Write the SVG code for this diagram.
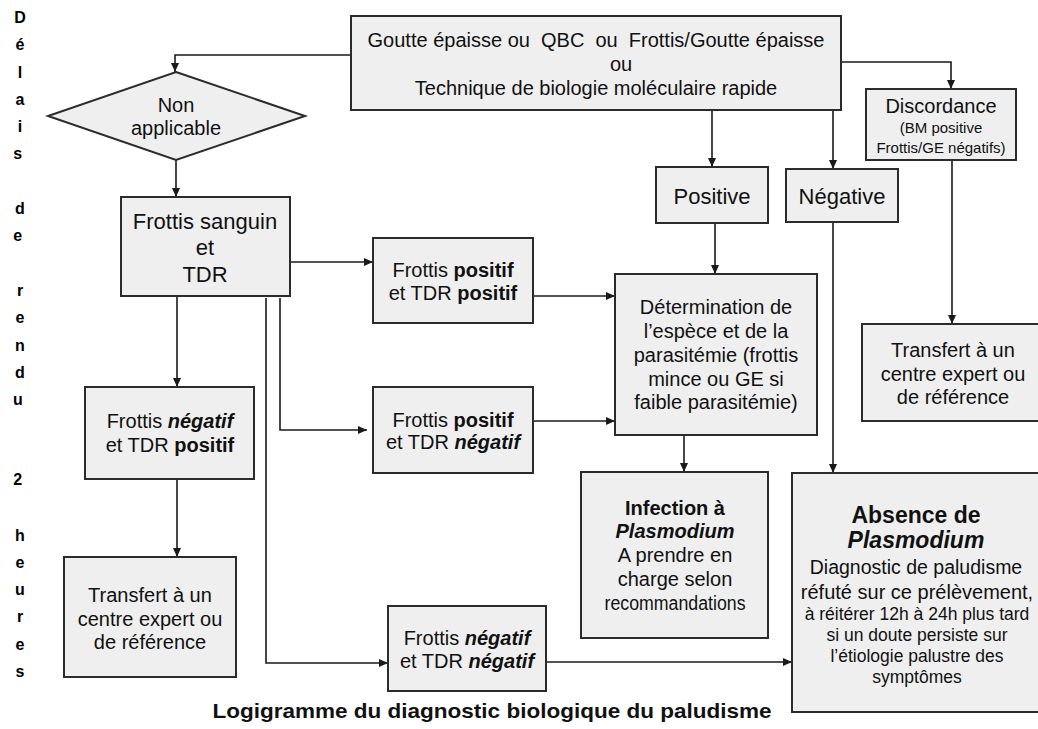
<svg xmlns="http://www.w3.org/2000/svg" width="1038" height="729" viewBox="0 0 1038 729">
<style>
.box{fill:#efefef;stroke:#2b2b2b;stroke-width:2}
.t{font-family:"Liberation Sans",Arial,sans-serif;fill:#111;text-anchor:middle}
.b{font-weight:bold}
.bi{font-weight:bold;font-style:italic}
.c{fill:none;stroke:#1a1a1a;stroke-width:1.6}
.side{font-family:"Liberation Sans",Arial,sans-serif;font-weight:bold;font-size:16px;fill:#000;text-anchor:middle}
</style>
<defs>
<marker id="arr" markerUnits="userSpaceOnUse" markerWidth="9" markerHeight="8" refX="9" refY="4" orient="auto">
<path d="M0,0 L9,4 L0,8 z" fill="#1a1a1a"/>
</marker>
</defs>
<rect width="1038" height="729" fill="#fff"/>

<text class="side">
<tspan x="20" y="23">D</tspan><tspan x="20" y="50">é</tspan><tspan x="20" y="78">l</tspan><tspan x="20" y="105">a</tspan><tspan x="20" y="132">i</tspan><tspan x="20" y="159">s</tspan>
<tspan x="20" y="214">d</tspan><tspan x="20" y="241">e</tspan>
<tspan x="20" y="296">r</tspan><tspan x="20" y="323">e</tspan><tspan x="20" y="351">n</tspan><tspan x="20" y="378">d</tspan><tspan x="20" y="405">u</tspan>
<tspan x="20" y="485">2</tspan>
<tspan x="20" y="541">h</tspan><tspan x="20" y="568">e</tspan><tspan x="20" y="595">u</tspan><tspan x="20" y="622">r</tspan><tspan x="20" y="650">e</tspan><tspan x="20" y="677">s</tspan>
</text>

<g id="connectors">
<polyline class="c" points="351,55 175,55 175,72" marker-end="url(#arr)"/>
<polyline class="c" points="841,62 951,62 951,89" marker-end="url(#arr)"/>
<line class="c" x1="712" y1="110" x2="712" y2="167" marker-end="url(#arr)"/>
<line class="c" x1="833" y1="110" x2="833" y2="169" marker-end="url(#arr)"/>
<line class="c" x1="176" y1="160" x2="176" y2="197" marker-end="url(#arr)"/>
<line class="c" x1="290" y1="262" x2="373" y2="262" marker-end="url(#arr)"/>
<line class="c" x1="177" y1="296" x2="177" y2="387" marker-end="url(#arr)"/>
<polyline class="c" points="280,298 280,430 367,430" marker-end="url(#arr)"/>
<polyline class="c" points="266,298 266,663 388,663" marker-end="url(#arr)"/>
<line class="c" x1="177" y1="479" x2="177" y2="557" marker-end="url(#arr)"/>
<line class="c" x1="533" y1="296" x2="615" y2="296" marker-end="url(#arr)"/>
<line class="c" x1="533" y1="421" x2="615" y2="421" marker-end="url(#arr)"/>
<line class="c" x1="715" y1="223" x2="715" y2="274" marker-end="url(#arr)"/>
<line class="c" x1="684" y1="435" x2="684" y2="472" marker-end="url(#arr)"/>
<line class="c" x1="833" y1="222" x2="833" y2="473" marker-end="url(#arr)"/>
<line class="c" x1="952" y1="160" x2="952" y2="324" marker-end="url(#arr)"/>
<line class="c" x1="546" y1="662" x2="792" y2="662" marker-end="url(#arr)"/>
</g>

<g id="top">
<rect class="box" x="351" y="16" width="490" height="94"/>
<text class="t" font-size="20" x="596" y="47" xml:space="preserve">Goutte épaisse ou  QBC  ou  Frottis/Goutte épaisse</text>
<text class="t" font-size="20" x="621" y="71">ou</text>
<text class="t" font-size="20" x="596" y="95">Technique de biologie moléculaire rapide</text>
</g>

<g id="nonapplicable">
<polygon class="box" points="176,72 305,116 176,160 48,116"/>
<text class="t" font-size="20" x="176" y="112">Non</text>
<text class="t" font-size="20" x="176" y="135">applicable</text>
</g>

<g id="discordance">
<rect class="box" x="866" y="89" width="150" height="71"/>
<text class="t" font-size="20" x="941" y="113">Discordance</text>
<text class="t" font-size="15" x="941" y="133">(BM positive</text>
<text class="t" font-size="15" x="941" y="153">Frottis/GE négatifs)</text>
</g>

<g id="positive">
<rect class="box" x="656" y="167" width="112" height="56"/>
<text class="t" font-size="22" x="712" y="204">Positive</text>
</g>

<g id="negative">
<rect class="box" x="786" y="169" width="112" height="53"/>
<text class="t" font-size="22" x="842" y="204">Négative</text>
</g>

<g id="frottis-sanguin">
<rect class="box" x="121" y="197" width="169" height="99"/>
<text class="t" font-size="22" x="205" y="229">Frottis sanguin</text>
<text class="t" font-size="22" x="205" y="255">et</text>
<text class="t" font-size="22" x="205" y="282">TDR</text>
</g>

<g id="fp-tp">
<rect class="box" x="373" y="238" width="160" height="85"/>
<text class="t" font-size="20" x="453" y="277">Frottis <tspan class="b">positif</tspan></text>
<text class="t" font-size="20" x="453" y="300">et TDR <tspan class="b">positif</tspan></text>
</g>

<g id="fp-tn">
<rect class="box" x="373" y="387" width="160" height="86"/>
<text class="t" font-size="20" x="453" y="427">Frottis <tspan class="b">positif</tspan></text>
<text class="t" font-size="20" x="453" y="449">et TDR <tspan class="bi">négatif</tspan></text>
</g>

<g id="fn-tp">
<rect class="box" x="85" y="387" width="169" height="92"/>
<text class="t" font-size="20" x="170" y="428">Frottis <tspan class="bi">négatif</tspan></text>
<text class="t" font-size="20" x="170" y="452">et TDR <tspan class="b">positif</tspan></text>
</g>

<g id="determination">
<rect class="box" x="615" y="274" width="202" height="161"/>
<text class="t" font-size="20" x="716" y="314">Détermination de</text>
<text class="t" font-size="20" x="716" y="338">l’espèce et de la</text>
<text class="t" font-size="20" x="716" y="362">parasitémie (frottis</text>
<text class="t" font-size="20" x="716" y="386">mince ou GE si</text>
<text class="t" font-size="20" x="716" y="409">faible parasitémie)</text>
</g>

<g id="transfert-right">
<rect class="box" x="862" y="324" width="185" height="97"/>
<text class="t" font-size="20" x="953" y="357">Transfert à un</text>
<text class="t" font-size="20" x="953" y="381">centre expert ou</text>
<text class="t" font-size="20" x="953" y="404">de référence</text>
</g>

<g id="transfert-left">
<rect class="box" x="64" y="557" width="172" height="120"/>
<text class="t" font-size="20" x="150" y="602">Transfert à un</text>
<text class="t" font-size="20" x="150" y="626">centre expert ou</text>
<text class="t" font-size="20" x="150" y="649">de référence</text>
</g>

<g id="fn-tn">
<rect class="box" x="388" y="606" width="158" height="85"/>
<text class="t" font-size="20" x="467" y="645">Frottis <tspan class="bi">négatif</tspan></text>
<text class="t" font-size="20" x="467" y="668">et TDR <tspan class="bi">négatif</tspan></text>
</g>

<g id="infection">
<rect class="box" x="581" y="472" width="187" height="166"/>
<text class="t b" font-size="20" x="675" y="515">Infection à</text>
<text class="t bi" font-size="20" x="675" y="538">Plasmodium</text>
<text class="t" font-size="20" x="675" y="562">A prendre en</text>
<text class="t" font-size="20" x="675" y="586">charge selon</text>
<text class="t" font-size="20" x="675" y="610" textLength="141" lengthAdjust="spacingAndGlyphs">recommandations</text>
</g>

<g id="absence">
<rect class="box" x="792" y="473" width="255" height="239"/>
<text class="t b" font-size="23" x="916" y="523">Absence de</text>
<text class="t bi" font-size="23" x="916" y="548">Plasmodium</text>
<text class="t" font-size="19.5" x="916" y="574">Diagnostic de paludisme</text>
<text class="t" font-size="20" x="917" y="599">réfuté sur ce prélèvement,</text>
<text class="t" font-size="17.5" x="917" y="620">à réitérer 12h à 24h plus tard</text>
<text class="t" font-size="17.5" x="917" y="641">si un doute persiste sur</text>
<text class="t" font-size="17.5" x="917" y="662">l’étiologie palustre des</text>
<text class="t" font-size="17.5" x="917" y="683">symptômes</text>
</g>

<text class="t b" font-size="21" x="492" y="718" textLength="559" lengthAdjust="spacingAndGlyphs">Logigramme du diagnostic biologique du paludisme</text>
</svg>
